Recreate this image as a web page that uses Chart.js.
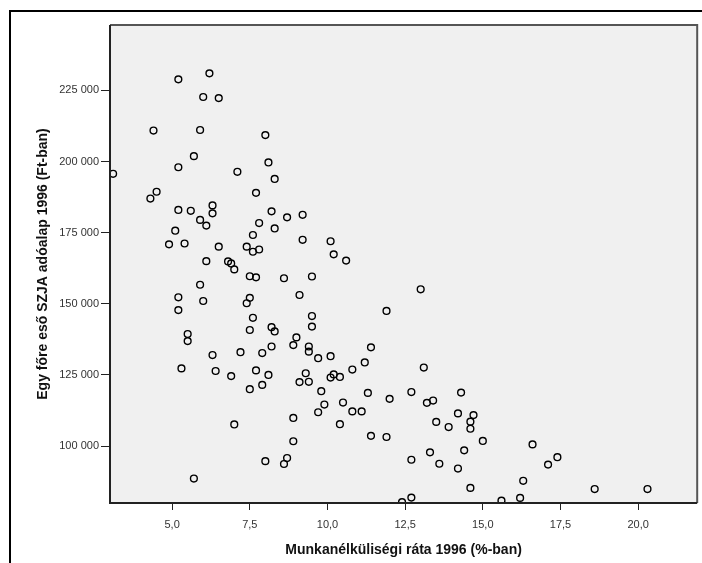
<!DOCTYPE html>
<html>
<head>
<meta charset="utf-8">
<script src="https://cdn.jsdelivr.net/npm/chart.js@4.4.1/dist/chart.umd.min.js"></script>
<style>
  html, body { margin: 0; padding: 0; background: #fff; }
  #wrap { position: relative; width: 702px; height: 563px; overflow: hidden; }
  #frame { position: absolute; left: 9px; top: 10px; width: 800px; height: 700px;
           border-left: 2px solid #000; border-top: 2px solid #000; }
  canvas { position: absolute; left: 0; top: 0; }
</style>
</head>
<body>
<div id="wrap">
  <div id="frame"></div>
  <canvas id="scatter" width="702" height="563"></canvas>
</div>
<script>
// unemployment rate 1996 (%)
const unemployment = [
  5.2, 6.2, 6.0, 6.5, 4.4, 5.9, 8.0, 5.7, 5.2, 8.1, 3.1, 7.1, 8.3, 4.5, 4.3, 7.7,
  5.2, 5.6, 6.3, 6.3, 5.9, 6.1, 8.2, 7.8, 8.7, 8.3, 9.2, 9.2, 5.1, 4.9, 5.4, 6.5,
  7.6, 7.4, 7.6, 7.8, 10.1, 10.2, 10.6, 6.1, 6.8, 6.9, 7.0, 7.5, 7.7, 8.6, 9.5, 5.9,
  9.1, 13.0, 5.2, 6.0, 7.5, 7.4, 5.2, 11.9, 7.6, 9.5, 9.5, 7.5, 8.2, 8.3, 5.5, 5.5,
  9.0, 8.9, 8.2, 9.4, 9.4, 9.7, 10.1, 11.4, 6.3, 7.2, 7.9, 5.3, 6.4, 6.9, 7.7, 8.1,
  7.5, 7.9, 9.1, 9.3, 9.4, 10.2, 10.1, 10.4, 10.8, 11.2, 13.1, 9.8, 11.3, 12.0, 12.7, 13.2,
  13.4, 14.3, 9.9, 9.7, 10.5, 10.8, 11.1, 7.0, 8.9, 10.4, 8.9, 11.4, 11.9, 13.5, 13.9, 14.2,
  14.7, 14.6, 14.6, 15.0, 8.0, 8.7, 8.6, 5.7, 12.7, 13.3, 13.6, 14.2, 14.4, 14.6, 12.7, 12.4,
  16.6, 17.4, 17.1, 16.3, 18.6, 20.3, 15.6, 16.2
];

// per-capita SZJA tax base 1996 (Ft)
const taxBase = [
  228900, 231000, 222700, 222300, 210900, 211100, 209300, 201900, 198000, 199700, 195700, 196400, 193900, 189400, 187000, 189000,
  183000, 182700, 184600, 181800, 179500, 177500, 182500, 178400, 180400, 176500, 181300, 172500, 175700, 170900, 171200, 170100,
  174200, 170100, 168300, 169100, 172000, 167400, 165200, 165000, 164900, 164200, 162100, 159700, 159300, 159000, 159600, 156700,
  153100, 155100, 152300, 151000, 152100, 150200, 147800, 147500, 145100, 145700, 142000, 140800, 141800, 140300, 139400, 136900,
  138200, 135500, 135000, 135000, 133200, 130900, 131600, 134700, 132000, 133000, 132700, 127300, 126400, 124600, 126600, 125000,
  120000, 121500, 122500, 125600, 122600, 125200, 124100, 124300, 126900, 129400, 127600, 119300, 118700, 116600, 119000, 115200,
  116000, 118800, 114600, 111900, 115300, 112200, 112200, 107600, 109900, 107700, 101700, 103600, 103200, 108500, 106700, 111500,
  110900, 108600, 106100, 101800, 94700, 95800, 93700, 88600, 95200, 97800, 93800, 92100, 98500, 85300, 81900, 80300,
  100600, 96100, 93500, 87800, 84900, 84900, 80800, 81800
];

const xTicks = [5, 7.5, 10, 12.5, 15, 17.5, 20];
const xTickLabels = ["5,0", "7,5", "10,0", "12,5", "15,0", "17,5", "20,0"];
const yTicks = [100000, 125000, 150000, 175000, 200000, 225000];
const yTickLabels = ["100 000", "125 000", "150 000", "175 000", "200 000", "225 000"];

const points = unemployment.map((x, i) => ({ x: x, y: taxBase[i] }));

// grey plot background and the darker frame on top/right
const plotFrame = {
  id: "plotFrame",
  beforeDatasetsDraw(chart) {
    const { ctx, chartArea: a } = chart;
    ctx.save();
    ctx.fillStyle = "#f0f0f0";
    ctx.fillRect(a.left, a.top, a.right - a.left, a.bottom - a.top);
    ctx.restore();
  },
  afterDraw(chart) {
    const { ctx, chartArea: a } = chart;
    ctx.save();
    ctx.strokeStyle = "#555";
    ctx.lineWidth = 2;
    ctx.beginPath();
    ctx.moveTo(a.left, a.top);
    ctx.lineTo(a.right, a.top);
    ctx.lineTo(a.right, a.bottom);
    ctx.stroke();
    ctx.strokeStyle = "#222";
    ctx.beginPath();
    ctx.moveTo(a.left, a.top);
    ctx.lineTo(a.left, a.bottom);
    ctx.lineTo(a.right, a.bottom);
    ctx.stroke();
    ctx.restore();
  }
};

new Chart(document.getElementById("scatter"), {
  type: "scatter",
  data: {
    datasets: [{
      data: points,
      pointRadius: 3.4,
      pointHoverRadius: 3.4,
      pointBorderWidth: 1.4,
      pointBorderColor: "#000",
      pointBackgroundColor: "rgba(0,0,0,0)",
      clip: 0
    }]
  },
  options: {
    responsive: false,
    animation: false,
    events: [],
    layout: { padding: { top: 25, right: 3, left: 0, bottom: 0 } },
    plugins: { legend: { display: false }, tooltip: { enabled: false } },
    scales: {
      x: {
        type: "linear",
        min: 3.0,
        max: 21.9,
        afterFit: s => { s.height = 60; },
        afterBuildTicks: s => { s.ticks = xTicks.map(v => ({ value: v })); },
        ticks: {
          color: "#333",
          font: { family: "Arial, 'Liberation Sans'", size: 11 },
          padding: 8,
          maxRotation: 0,
          callback: (v, i) => xTickLabels[i]
        },
        grid: { drawOnChartArea: false, drawTicks: true, tickLength: 7, color: "#222" },
        border: { display: false },
        title: {
          display: true,
          text: "Munkanélküliségi ráta 1996 (%-ban)",
          color: "#111",
          font: { family: "Arial, 'Liberation Sans'", size: 14, weight: "bold" },
          padding: { top: 0, bottom: 4 }
        }
      },
      y: {
        type: "linear",
        min: 80000,
        max: 248000,
        afterFit: s => { s.width = 110; },
        afterBuildTicks: s => { s.ticks = yTicks.map(v => ({ value: v })); },
        ticks: {
          color: "#333",
          font: { family: "Arial, 'Liberation Sans'", size: 11 },
          padding: 2,
          callback: (v, i) => yTickLabels[i]
        },
        grid: { drawOnChartArea: false, drawTicks: true, tickLength: 9, color: "#222" },
        border: { display: false },
        title: {
          display: true,
          text: "Egy főre eső SZJA adóalap 1996 (Ft-ban)",
          color: "#111",
          font: { family: "Arial, 'Liberation Sans'", size: 14, weight: "bold" },
          padding: { top: 35, bottom: 0 }
        }
      }
    }
  },
  plugins: [plotFrame]
});
</script>
</body>
</html>
